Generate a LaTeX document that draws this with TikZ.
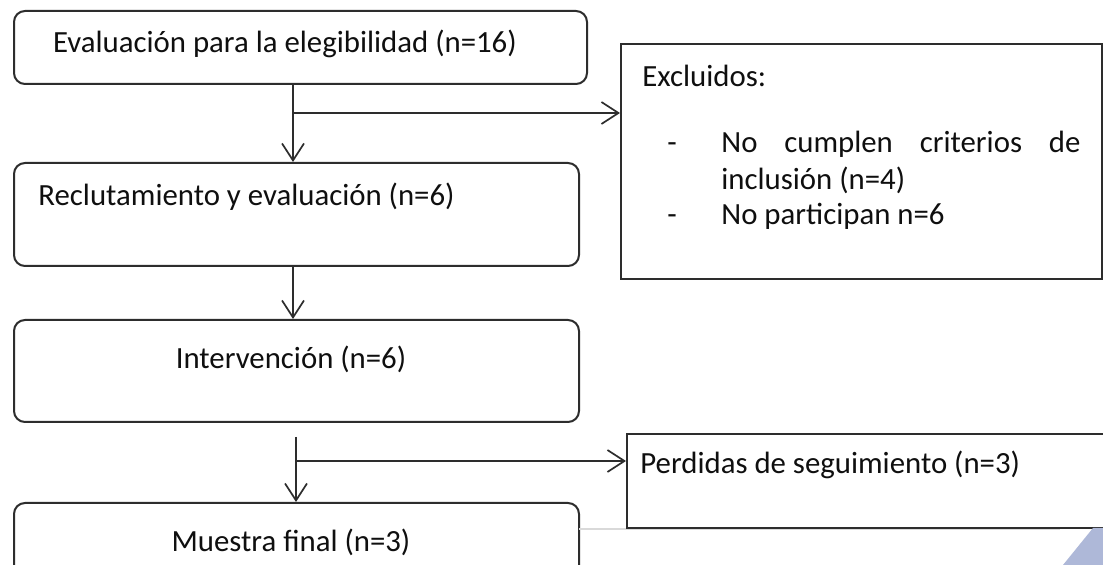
\documentclass[tikz,border=0pt]{standalone}
\usepackage{fontspec}
\setmainfont{Carlito}
\usetikzlibrary{arrows.meta}

\definecolor{borde}{RGB}{45,45,45}
\definecolor{letra}{RGB}{15,15,15}
\definecolor{lila}{RGB}{174,184,216}

\begin{document}
\begin{tikzpicture}[x=0.5pt,y=-0.5pt,
	caja/.style={draw=borde,line width=1pt,rounded corners=5.5pt,minimum width=282.5pt,anchor=north west,inner sep=0pt},
	cuadro/.style={draw=borde,line width=1pt,anchor=north west,inner sep=0pt},
	texto/.style={text=letra,font=\fontsize{15.4}{18}\selectfont,inner sep=0pt,text height=10pt,text depth=3pt},
	flecha/.style={draw=borde,line width=0.85pt,-{Straight Barb[length=8.5pt,width=11pt]}}]

	% Page frame: keeps the margins of the picture
	\fill [white] (0,0) rectangle (1103,565);
	\useasboundingbox (0,0) rectangle (1103,565);
	\clip (0,0) rectangle (1103,565);

	% Left column: rounded boxes
	\node [caja,minimum width=286.5pt,minimum height=36.5pt] (eleg) at (13,10) {};
	\node [texto] (elegtxt) at (285,46) {Evaluación para la elegibilidad (n=16)};

	\node [caja,minimum height=51.5pt] (reclut) at (13,162) {};
	\node [texto,anchor=west] (reclutxt) at (38,199) {Reclutamiento y evaluación (n=6)};

	\node [caja,minimum height=51pt] (interv) at (13,319) {};
	\node [texto] (intervtxt) at (291,362) {Intervención (n=6)};

	% The last box runs past the lower edge of the page
	\node [caja,minimum height=45pt] (muestra) at (13,502) {};
	\node [texto] (muestratxt) at (291,545) {Muestra final (n=3)};

	% Right column: plain boxes
	\node [cuadro,minimum width=240.5pt,minimum height=117.5pt] (excl) at (620,43) {};
	\node [texto,anchor=west] (excltxt) at (642,80) {Excluidos:};
	\node [texto] (guion1) at (672,146) {-};
	\node [texto,anchor=west] (crit1) at (721,146) {\makebox[179.5pt][s]{No cumplen criterios de}};
	\node [texto,anchor=west] (crit2) at (721,183) {inclusión (n=4)};
	\node [texto] (guion2) at (672,218) {-};
	\node [texto,anchor=west] (crit3) at (721,218) {No participan n=6};

	\draw [gray!30,line width=0.6pt] (579,529) -- (1060,529);
	\node [cuadro,minimum width=245pt,minimum height=47pt] (perd) at (626,433) {};
	\node [texto,anchor=west] (perdtxt) at (640,467) {Perdidas de seguimiento (n=3)};

	% Connectors:
	% branch points where the side arrows leave the main line
	\coordinate (rama1) at (293,113);
	\coordinate (inicio) at (296,437);
	\coordinate (rama2) at (296,461);

	\draw [flecha] (eleg.south -| rama1) -- (reclut.north -| rama1);
	\draw [flecha] (rama1) -- (rama1 -| excl.west);
	\draw [flecha] (reclut.south -| rama1) -- (interv.north -| rama1);
	\draw [flecha] (inicio) -- (muestra.north -| inicio);
	\draw [flecha] (rama2) -- (rama2 -| perd.west);

	% Corner shape at the lower right
	\fill [lila] (1063,565) -- (1093,528) -- (1103,528) -- (1103,565) -- cycle;
\end{tikzpicture}
\end{document}
